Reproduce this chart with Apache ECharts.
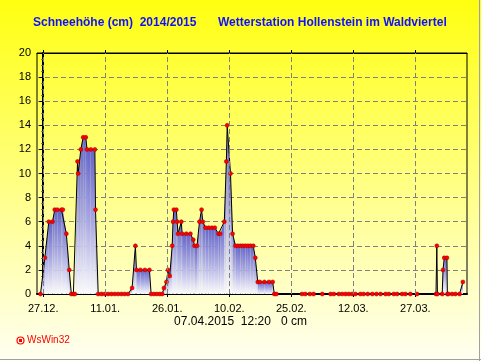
<!DOCTYPE html>
<html><head><meta charset="utf-8">
<script src="https://cdn.jsdelivr.net/npm/echarts@6/dist/echarts.min.js"></script>
<style>html,body{margin:0;padding:0;}#c{width:481px;height:361px;}</style>
</head><body><div id="c"></div>
<script>
// days since 27.12.2014 00:00
const days = [-0.65,0.4,1.35,2.25,2.8,3.4,4.4,4.75,5.6,6.3,6.8,7.3,7.65,8.3,8.45,9.1,9.67,10.3,10.6,11.5,12.5,12.65,13.3,14.1,14.9,15.7,16.5,17.3,18.1,18.9,19.7,20.5,21.5,22.3,22.55,23.5,24.6,25.7,26.1,26.8,27.5,28.2,28.8,29.2,29.8,30.2,30.6,31.2,31.4,31.6,32.2,32.4,32.6,33.4,33.6,34.6,35.6,36.3,36.6,37.2,37.8,38.3,38.6,39.25,40.0,40.8,41.5,42.4,42.8,43.8,44.3,44.5,45.3,45.8,46.5,47.1,47.7,48.3,48.9,49.5,50.1,50.8,51.3,51.9,52.4,53.5,54.6,55.5,55.9,56.4,62.6,63.4,64.5,65.4,67.5,69.5,70.3,71.5,72.3,73.1,73.9,74.7,75.5,76.7,77.5,78.5,79.6,80.6,81.6,82.8,83.6,84.8,85.6,86.8,87.6,88.8,90.4,95.0,95.2,95.35,96.5,96.7,97.0,97.65,97.75,98.0,98.9,99.7,100.7,101.5];
const snow = [0,3,6,6,7,7,7,7,5,2,0,0,0,11,10,12,13,13,12,12,12,7,0,0,0,0,0,0,0,0,0,0,0.5,4,2,2,2,2,0,0,0,0,0,0.5,1,2,1.5,4,6,7,7,6,5,6,5,5,5,4.5,4,4,6,7,6,5.5,5.5,5.5,5.5,5,5,6,11,14,10,5,4,4,4,4,4,4,4,4,3,1,1,1,1,1,0,0,0,0,0,0,0,0,0,0,0,0,0,0,0,0,0,0,0,0,0,0,0,0,0,0,0,0,0,0,4,0,0,2,3,3,0,0,0,0,0,1];
const xTickDays = [0,15,30,45,60,75,90];
const xTickLabels = ['27.12.','11.01.','26.01.','10.02.','25.02.','12.03.','27.03.'];
const titleLeft = 'Schneehöhe (cm)  2014/2015';
const titleRight = 'Wetterstation Hollenstein im Waldviertel';
const footerText = '07.04.2015  12:20   0 cm';
const brandText = 'WsWin32';

const chart = echarts.init(document.getElementById('c'), null, {renderer:'canvas'});
const pts = days.map((d,i)=>[d, snow[i]]);
const gridLineStyle = {color:'#808080', type:[5,3], width:1};
const option = {
  animation:false,
  backgroundColor: new echarts.graphic.LinearGradient(0,0,0,1,[{offset:0,color:'#ffff10'},{offset:1,color:'#fffff2'}]),
  title:[
    {text:titleLeft, left:33, top:17, padding:0, textStyle:{color:'#1010ff', fontSize:12, fontWeight:'bold', fontFamily:'Liberation Sans'}},
    {text:titleRight, left:218, top:17, padding:0, textStyle:{color:'#1010ff', fontSize:12, fontWeight:'bold', fontFamily:'Liberation Sans'}},
    {text:footerText, left:'center', top:316, padding:0, textStyle:{color:'#000', fontSize:12, fontWeight:'normal', fontFamily:'Liberation Sans'}},
    {text:brandText, left:27, top:335, padding:0, textStyle:{color:'#ff0000', fontSize:10, fontWeight:'normal', fontFamily:'Liberation Sans'}}
  ],
  graphic:[
    {type:'circle', shape:{cx:20.5, cy:340.5, r:3.5}, style:{fill:'none', stroke:'#ff0000', lineWidth:1.2}},
    {type:'rect', shape:{x:19, y:339, width:3, height:3}, style:{fill:'#ff0000'}},
    {type:'line', shape:{x1:0, y1:359.5, x2:481, y2:359.5}, style:{stroke:'#a0a0a0', lineWidth:1}},
    {type:'line', shape:{x1:479.5, y1:0, x2:479.5, y2:361}, style:{stroke:'#a0a0a0', lineWidth:1}}
  ],
  grid:{left:37, right:14, top:53, bottom:67, show:true, borderColor:'#000', borderWidth:1, backgroundColor:'transparent'},
  xAxis:[
    {type:'value', min:-1.5, max:102.5, position:'bottom',
     axisLine:{show:true, onZero:false, lineStyle:{color:'#000', width:2}},
     axisTick:{show:true, customValues:xTickDays, length:3, lineStyle:{color:'#000'}},
     axisLabel:{show:true, customValues:xTickDays, color:'#000', fontSize:11, fontFamily:'Liberation Sans', margin:9,
       formatter:(v)=>{const k=xTickDays.indexOf(Math.round(v)); return k>=0?xTickLabels[k]:'';}},
     splitLine:{show:false}},
    {type:'value', min:-1.5, max:102.5, position:'top',
     axisLine:{show:true, onZero:false, lineStyle:{color:'#000', width:1}},
     axisTick:{show:true, customValues:xTickDays, length:3, lineStyle:{color:'#000'}},
     axisLabel:{show:false}, splitLine:{show:false}}
  ],
  yAxis:[{type:'value', min:0, max:20, interval:2,
     axisLine:{show:true, lineStyle:{color:'#000', width:2}},
     axisTick:{show:true, length:4, lineStyle:{color:'#000'}},
     minorTick:{show:true, splitNumber:4, length:2, lineStyle:{color:'#606060'}},
     axisLabel:{color:'#000', fontSize:11, fontFamily:'Liberation Sans', margin:6},
     splitLine:{show:true, lineStyle:gridLineStyle}}],
  series:[
    {type:'line', data:[], z:1, silent:true,
     markLine:{symbol:'none', silent:true, label:{show:false}, lineStyle:gridLineStyle, emphasis:{disabled:true},
       data:xTickDays.map(d=>({xAxis:d}))}},
    {type:'custom', data:pts, encode:{x:0,y:1}, clip:true, z:2,
     renderItem:(params, api)=>{
       const i = params.dataIndex;
       if (i >= days.length-1) return null;
       if (snow[i]===0 && snow[i+1]===0) return null;
       const a = api.coord([days[i], snow[i]]);
       const b = api.coord([days[i+1], snow[i+1]]);
       const b0 = api.coord([days[i+1], 0]);
       const a0 = api.coord([days[i], 0]);
       return {type:'polygon', shape:{points:[a,b,b0,a0]},
         style:{fill:new echarts.graphic.LinearGradient(0,0,0,1,[{offset:0,color:'#6464cc'},{offset:0.5,color:'#a8a8e4'},{offset:1,color:'#fafaff'}]), stroke:null}};
     }},
    {type:'line', data:pts, z:3, symbol:'circle', symbolSize:4,
     lineStyle:{color:'#000', width:1}, itemStyle:{color:'#ff0000', borderColor:'#a00000', borderWidth:0.5}}
  ]
};
chart.setOption(option);
</script></body></html>
